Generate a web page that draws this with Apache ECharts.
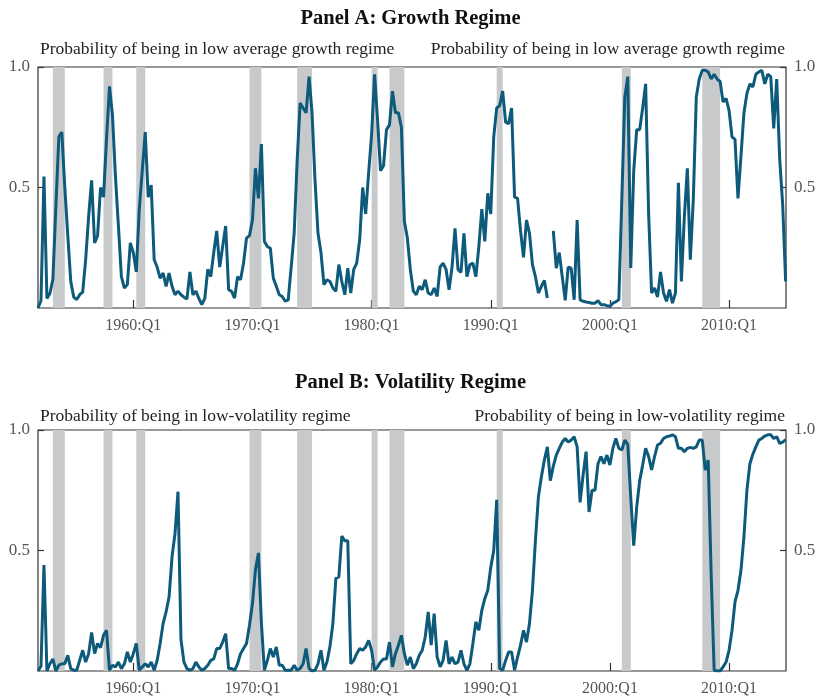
<!DOCTYPE html>
<html>
<head>
<meta charset="utf-8">
<script src="https://cdn.jsdelivr.net/npm/echarts@6/dist/echarts.min.js"></script>
<style>
  html, body { margin: 0; padding: 0; background: #fff; }
  #chart { width: 821px; height: 700px; }
</style>
</head>
<body>
<div id="chart"></div>
<script>
// Quarterly sample: 1952:Q1 through 2014:Q4
const startYear = 1952;

// Smoothed probability of the low average growth regime (null = missing quarter)
const lowGrowthProb = [
  0.0, 0.03, 0.545, 0.04, 0.06, 0.12, 0.42, 0.71, 0.73, 0.50,
  0.30, 0.11, 0.045, 0.035, 0.055, 0.066, 0.20, 0.38, 0.53, 0.27,
  0.30, 0.50, 0.46, 0.70, 0.92, 0.80, 0.545, 0.34, 0.13, 0.083,
  0.097, 0.27, 0.23, 0.15, 0.41, 0.57, 0.73, 0.46, 0.51, 0.20,
  0.17, 0.124, 0.145, 0.09, 0.145, 0.09, 0.055, 0.07, 0.055, 0.045,
  0.037, 0.15, 0.055, 0.07, 0.04, 0.014, 0.04, 0.16, 0.13, 0.23,
  0.32, 0.17, 0.255, 0.34, 0.076, 0.069, 0.041, 0.13, 0.117, 0.186,
  0.29, 0.30, 0.365, 0.58, 0.455, 0.68, 0.276, 0.255, 0.248, 0.124,
  0.09, 0.055, 0.048, 0.028, 0.034, 0.17, 0.31, 0.61, 0.85, 0.83,
  0.81, 0.96, 0.81, 0.53, 0.31, 0.23, 0.097, 0.117, 0.11, 0.083,
  0.069, 0.18, 0.11, 0.055, 0.165, 0.062, 0.16, 0.186, 0.283, 0.50,
  0.39, 0.56, 0.72, 0.97, 0.78, 0.57, 0.59, 0.74, 0.76, 0.90,
  0.81, 0.81, 0.75, 0.36, 0.29, 0.16, 0.07, 0.055, 0.09, 0.076,
  0.117, 0.062, 0.055, 0.083, 0.048, 0.17, 0.186, 0.16, 0.076, 0.17,
  0.33, 0.16, 0.148, 0.31, 0.13, 0.18, 0.186, 0.13, 0.255, 0.41,
  0.276, 0.476, 0.39, 0.71, 0.83, 0.84, 0.90, 0.77, 0.765, 0.83,
  0.46, 0.455, 0.32, 0.21, 0.365, 0.31, 0.18, 0.13, 0.062, 0.09,
  0.114, 0.041, null, 0.32, 0.165, 0.23, 0.13, 0.032, 0.17, 0.165,
  0.034, 0.365, 0.034, 0.028, 0.025, 0.023, 0.02, 0.02, 0.03, 0.014,
  0.014, 0.01, 0.007, 0.02, 0.026, 0.034, 0.45, 0.875, 0.96, 0.166,
  0.57, 0.74, 0.74, 0.83, 0.93, 0.39, 0.062, 0.083, 0.046, 0.15,
  0.062, 0.028, 0.076, 0.02, 0.062, 0.52, 0.11, 0.38, 0.58, 0.20,
  0.45, 0.876, 0.95, 0.986, 0.986, 0.98, 0.95, 0.97, 0.95, 0.94,
  0.855, 0.87, 0.82, 0.71, 0.70, 0.455, 0.63, 0.81, 0.89, 0.93,
  0.917, 0.97, 0.98, 0.986, 0.93, 0.97, 0.96, 0.745, 0.95, 0.62,
  0.43, 0.11
];

// Smoothed probability of the low-volatility regime
const lowVolProb = [
  0.0, 0.02, 0.44, 0.0, 0.03, 0.05, 0.0, 0.024, 0.03, 0.03,
  0.065, 0.01, 0.003, 0.003, 0.044, 0.086, 0.037, 0.072, 0.16, 0.072,
  0.114, 0.097, 0.148, 0.169, 0.003, 0.024, 0.017, 0.037, 0.01, 0.03,
  0.079, 0.037, 0.072, 0.114, 0.003, 0.017, 0.03, 0.017, 0.037, 0.003,
  0.044, 0.114, 0.197, 0.245, 0.307, 0.474, 0.57, 0.744, 0.13, 0.037,
  0.01, 0.003, 0.01, 0.037, 0.017, 0.003, 0.01, 0.024, 0.044, 0.05,
  0.093, 0.093, 0.12, 0.155, 0.01, 0.01, 0.003, 0.03, 0.072, 0.093,
  0.114, 0.19, 0.28, 0.42, 0.49, 0.2, 0.003, 0.044, 0.093, 0.058,
  0.1, 0.024, 0.024, 0.003, 0.003, 0.003, 0.024, 0.003, 0.01, 0.03,
  0.093, 0.01, 0.0, 0.003, 0.03, 0.086, 0.003, 0.037, 0.1, 0.197,
  0.384, 0.39, 0.56, 0.54, 0.54, 0.03, 0.044, 0.072, 0.093, 0.086,
  0.1, 0.127, 0.086, 0.003, 0.017, 0.037, 0.05, 0.05, 0.12, 0.017,
  0.072, 0.107, 0.148, 0.072, 0.024, 0.058, 0.01, 0.03, 0.065, 0.086,
  0.141, 0.245, 0.107, 0.238, 0.058, 0.017, 0.044, 0.127, 0.03, 0.058,
  0.03, 0.037, 0.086, 0.03, 0.003, 0.03, 0.114, 0.204, 0.169, 0.252,
  0.30, 0.335, 0.43, 0.50, 0.71, 0.01, 0.003, 0.044, 0.079, 0.079,
  0.003, 0.058, 0.107, 0.169, 0.12, 0.197, 0.335, 0.543, 0.723, 0.806,
  0.875, 0.93, 0.79, 0.85, 0.896, 0.924, 0.95, 0.965, 0.95, 0.958,
  0.972, 0.93, 0.70, 0.813, 0.91, 0.66, 0.75, 0.75, 0.86, 0.89,
  0.86, 0.896, 0.855, 0.924, 0.965, 0.924, 0.917, 0.958, 0.94, 0.72,
  0.52, 0.68, 0.79, 0.855, 0.924, 0.89, 0.834, 0.89, 0.938, 0.945,
  0.965, 0.972, 0.975, 0.98, 0.972, 0.924, 0.924, 0.91, 0.924, 0.928,
  0.924, 0.93, 0.958, 0.958, 0.834, 0.875, 0.40, 0.003, 0.0, 0.0,
  0.017, 0.037, 0.086, 0.169, 0.287, 0.335, 0.418, 0.557, 0.75, 0.86,
  0.90, 0.93, 0.958, 0.965, 0.975, 0.98, 0.98, 0.965, 0.972, 0.945,
  0.95, 0.96
];

// NBER recessions, peak quarter to trough quarter (decimal years)
const recessions = [
  [1953.25, 1954.25], [1957.5, 1958.25], [1960.25, 1961.0],
  [1969.75, 1970.75], [1973.75, 1975.0], [1980.0, 1980.5],
  [1981.5, 1982.75], [1990.5, 1991.0], [2001.0, 2001.75],
  [2007.75, 2009.25]
];

const tickYears = [1960, 1970, 1980, 1990, 2000, 2010];
const yTicks = [0.5, 1.0];

const panelTitles = ['Panel A: Growth Regime', 'Panel B: Volatility Regime'];
const panelCaptions = [
  'Probability of being in low average growth regime',
  'Probability of being in low-volatility regime'
];

const serif = "'Liberation Serif', 'DejaVu Serif', serif";
const lineColor = '#0e5a7b';
const shadeColor = '#c8c9cb';
const axisColor = '#333';
const labelColor = '#555';

function toPairs(values) {
  return values.map((v, i) => [startYear + i * 0.25, v]);
}

const grids = [
  { left: 38, right: 35, top: 67, height: 241 },
  { left: 38, right: 35, top: 430, height: 241 }
];

const xAxes = grids.map((g, i) => ({
  type: 'value', gridIndex: i,
  min: 1952, max: 2014.78,
  splitLine: { show: false },
  axisLine: { show: false },
  axisTick: { show: true, inside: true, length: 8, customValues: tickYears,
              lineStyle: { color: axisColor, width: 1.2 } },
  axisLabel: { customValues: tickYears, formatter: v => v + ':Q1',
               fontFamily: serif, fontSize: 16, color: labelColor, margin: 10 }
}));

const yAxes = [];
grids.forEach((g, i) => {
  ['left', 'right'].forEach(pos => {
    yAxes.push({
      type: 'value', gridIndex: i, position: pos,
      min: 0, max: 1,
      splitLine: { show: false },
      axisLine: { show: false },
      axisTick: { show: true, inside: true, length: 6, customValues: yTicks,
                  lineStyle: { color: axisColor, width: 1.2 } },
      axisLabel: { customValues: yTicks, formatter: v => v.toFixed(1),
                   fontFamily: serif, fontSize: 17, color: labelColor, margin: 8 }
    });
  });
});

function regimeSeries(values, gridIdx) {
  return {
    type: 'line',
    xAxisIndex: gridIdx, yAxisIndex: gridIdx * 2,
    data: toPairs(values),
    showSymbol: false,
    connectNulls: false,
    lineStyle: { color: lineColor, width: 3 },
    z: 3,
    markArea: {
      silent: true,
      itemStyle: { color: shadeColor },
      data: recessions.map(r => [{ xAxis: r[0] }, { xAxis: r[1] }])
    }
  };
}

const titles = [];
[8, 372].forEach((top, i) => {
  titles.push({ text: panelTitles[i], left: 'center', top: top, padding: 0,
    textStyle: { fontFamily: serif, fontSize: 20.5, fontWeight: 'bold', color: '#111' } });
});
[40, 407].forEach((top, i) => {
  const style = { fontFamily: serif, fontSize: 17.5, fontWeight: 'normal', color: '#222' };
  titles.push({ text: panelCaptions[i], left: 40, top: top, padding: 0, textStyle: style });
  titles.push({ text: panelCaptions[i], right: 36, top: top, padding: 0, textStyle: style });
});

const chart = echarts.init(document.getElementById('chart'), null, { renderer: 'canvas' });
chart.setOption({
  animation: false,
  backgroundColor: '#fff',
  title: titles,
  grid: grids.map(g => Object.assign({ show: true, borderColor: axisColor, borderWidth: 1.2,
                                       backgroundColor: 'transparent' }, g)),
  xAxis: xAxes,
  yAxis: yAxes,
  series: [regimeSeries(lowGrowthProb, 0), regimeSeries(lowVolProb, 1)]
});
</script>
</body>
</html>
